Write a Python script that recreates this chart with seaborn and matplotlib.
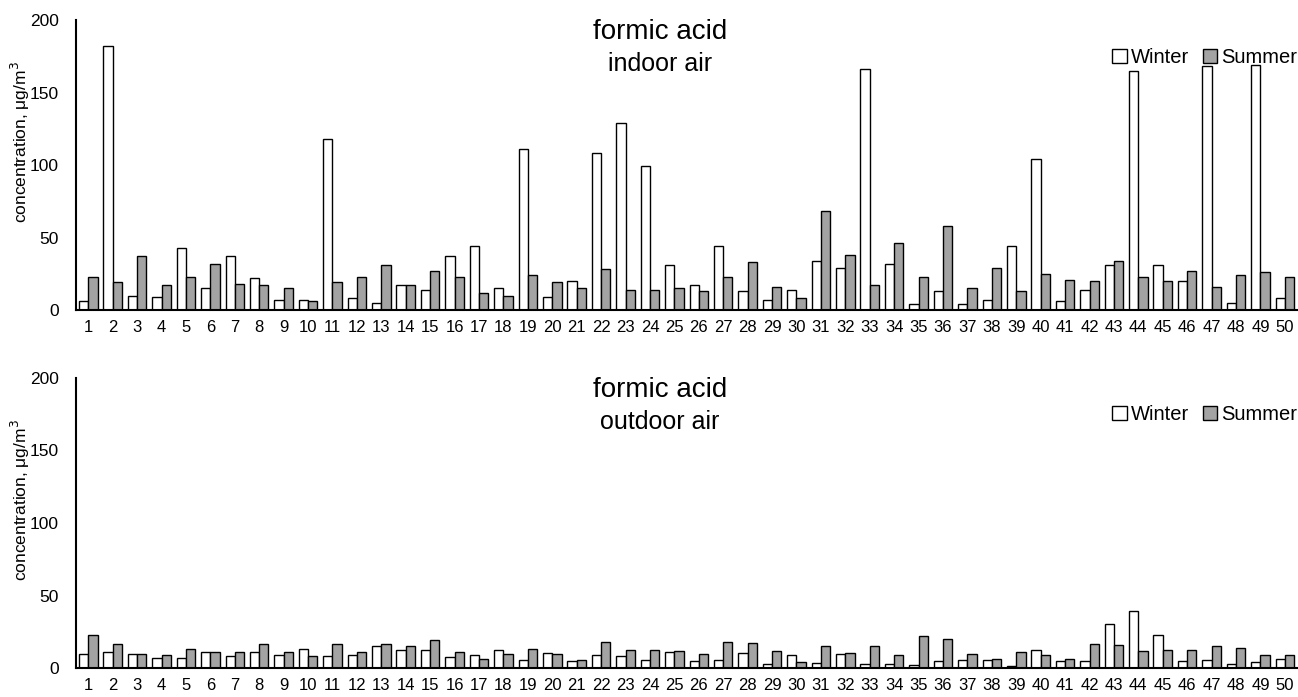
import matplotlib
matplotlib.use("Agg")
import matplotlib.pyplot as plt
import seaborn as sns
import pandas as pd
from matplotlib.patches import Patch

sites = list(range(1, 51))

indoor_winter = [6, 182, 10, 9, 43, 15, 37, 22, 7, 7,
                 118, 8, 5, 17, 14, 37, 44, 15, 111, 9,
                 20, 108, 129, 99, 31, 17, 44, 13, 7, 14,
                 34, 29, 166, 32, 4, 13, 4, 7, 44, 104,
                 6, 14, 31, 165, 31, 20, 168, 5, 169, 8]
indoor_summer = [23, 19, 37, 17, 23, 32, 18, 17, 15, 6,
                 19, 23, 31, 17, 27, 23, 12, 10, 24, 19,
                 15, 28, 14, 14, 15, 13, 23, 33, 16, 8,
                 68, 38, 17, 46, 23, 58, 15, 29, 13, 25,
                 21, 20, 34, 23, 20, 27, 16, 24, 26, 23]

outdoor_winter = [9.5, 11.5, 10, 7.3, 6.9, 11.5, 8.3, 11.2, 9, 13,
                  8.5, 9, 15.4, 12.4, 12.8, 8, 9.4, 12.8, 6, 10.8,
                  4.8, 9, 8.5, 6, 11.2, 5, 6, 10.8, 3.2, 9,
                  3.7, 10, 2.8, 2.8, 2.5, 4.8, 5.5, 5.7, 1.4, 12.4,
                  5.3, 4.8, 30.5, 39.2, 22.7, 5.3, 5.7, 3, 4.6, 6.4]
outdoor_summer = [23, 17, 10, 9, 13.3, 11, 11, 16.7, 11.5, 8.3,
                  17, 11.2, 17, 15, 19.5, 11.5, 6.2, 9.6, 13.5, 10,
                  6, 18, 12.8, 12.8, 12, 10, 18, 17.7, 11.7, 4.6,
                  15, 10.8, 15, 9.2, 22.2, 20, 9.6, 6.7, 11, 9.4,
                  6.2, 17, 16, 12, 12.8, 12.6, 15, 13.8, 9.2, 9.4]

seasons = ["Winter", "Summer"]
panel_titles = ["formic acid\nindoor air", "formic acid\noutdoor air"]
y_ticks = [0, 50, 100, 150, 200]
y_label = "concentration, μg/m$^3$"

season_colors = {"Winter": "#ffffff", "Summer": "#a3a3a3"}


def long_frame(w, s):
    return pd.DataFrame({
        "site": [str(i) for i in sites] * 2,
        "season": ["Winter"] * len(w) + ["Summer"] * len(s),
        "value": list(w) + list(s),
    })


sns.set_style("white")
plt.rcParams["font.family"] = ["Liberation Sans", "DejaVu Sans"]
plt.rcParams["text.color"] = "black"
plt.rcParams["axes.labelcolor"] = "black"
plt.rcParams["xtick.color"] = "black"
plt.rcParams["ytick.color"] = "black"

fig = plt.figure(figsize=(12.98, 6.97), dpi=100)
ax1 = fig.add_axes([0.0586, 0.5552, 0.9407, 0.4161])
ax2 = fig.add_axes([0.0586, 0.0412, 0.9407, 0.4170])

data = [(indoor_winter, indoor_summer), (outdoor_winter, outdoor_summer)]

for ax, (w, s), title in zip([ax1, ax2], data, panel_titles):
    df = long_frame(w, s)
    sns.barplot(data=df, x="site", y="value", hue="season", hue_order=seasons,
                palette=season_colors, edgecolor="black", linewidth=1.0,
                width=0.76, ax=ax, legend=False)
    ax.set_xlim(-0.5, len(sites) - 0.5)
    ax.set_ylim(0, 200)
    ax.set_yticks(y_ticks)
    ax.set_ylabel(y_label, fontsize=12.5)
    ax.yaxis.set_label_coords(-0.036, 0.578)
    ax.set_xlabel("")
    ax.tick_params(axis="y", labelsize=12.5, direction="inout", length=5, width=1.2, pad=10)
    ax.tick_params(axis="x", labelsize=12, length=0, pad=7)
    for side in ["top", "right"]:
        ax.spines[side].set_visible(False)
    for side in ["left", "bottom"]:
        ax.spines[side].set_linewidth(1.5)
        ax.spines[side].set_color("black")
    line1, line2 = title.split("\n")
    ax.text(0.478, 0.959, line1, transform=ax.transAxes, ha="center", va="center", fontsize=20)
    ax.text(0.478, 0.848, line2, transform=ax.transAxes, ha="center", va="center", fontsize=18)
    handles = [Patch(facecolor=season_colors[k], edgecolor="black", linewidth=1.0, label=k)
               for k in seasons]
    ax.legend(handles=handles, loc="center right", bbox_to_anchor=(1.0, 0.872),
              ncol=2, frameon=False, fontsize=14.5, handlelength=0.7, handleheight=0.7,
              handletextpad=0.2, columnspacing=0.7, borderaxespad=0, borderpad=0)

fig.savefig("out.png", dpi=100)
